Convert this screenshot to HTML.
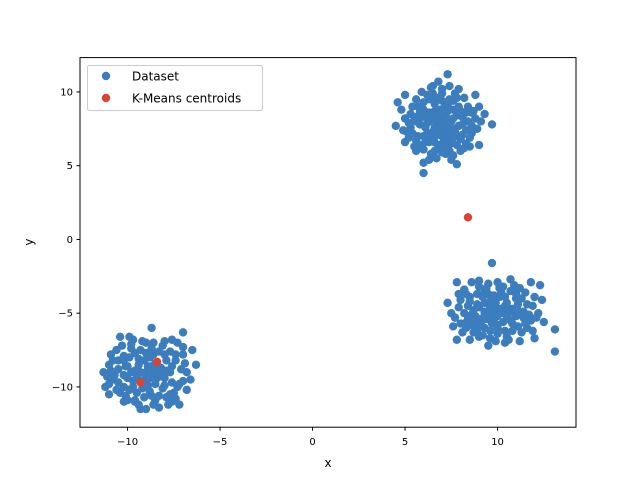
<!DOCTYPE html>
<html><head><meta charset="utf-8"><style>
body{margin:0;background:#fff;}
svg{display:block;font-family:"DejaVu Sans","Liberation Sans",sans-serif;}
</style></head><body>
<svg id="chart" width="640" height="480">
<rect x="0" y="0" width="640" height="480" fill="#fff"/>
<g id="pts"></g>
<rect x="80" y="57.6" width="496" height="369.6" fill="none" stroke="#000" stroke-width="1"/>
<g id="axes"></g>
<text x="328" y="467" font-size="12" text-anchor="middle">x</text>
<text x="33" y="242" font-size="12" text-anchor="middle" transform="rotate(-90 33 242)">y</text>
<g>
<rect x="87.5" y="65.5" width="175" height="45" rx="2" fill="#fff" fill-opacity="0.8" stroke="#ccc"/>
<circle cx="106" cy="76" r="4.2" fill="#3b7dbd"/>
<text x="132" y="80.5" font-size="12">Dataset</text>
<circle cx="106" cy="98" r="4.2" fill="#db4433"/>
<text x="132" y="102.5" font-size="12">K-Means centroids</text>
</g>
</svg>
<script>
const dataA=[[4.5,7.7],[4.6,9.3],[5.0,9.8],[6.8,10.7],[7.3,11.2],[8.8,9.8],[9.3,8.5],[9.7,7.8],[9.0,6.4],[7.8,5.1],[6.0,4.5],[6.0,5.2],[5.0,6.6],[5.5,6.3],[5.3,8.5],[5.6,9.5],[6.2,9.8],[7.0,9.9],[7.8,9.6],[8.4,9.0],[8.8,8.2],[8.6,7.2],[8.3,6.5],[7.4,6.0],[6.6,6.0],[5.9,6.4],[5.4,7.2],[5.6,8.0],[6.0,8.8],[6.6,9.2],[7.3,9.1],[8.0,8.7],[8.1,7.8],[7.8,7.0],[7.1,6.7],[6.4,6.9],[6.1,7.6],[6.5,8.3],[7.2,8.4],[7.5,7.6],[6.9,7.5],[6.7,8.0],[7.0,7.0],[6.2,7.2],[5.8,7.8],[7.6,8.2],[8.4,8.0],[6.3,9.5],[7.6,9.4],[8.2,6.2],[6.8,6.3],[5.2,7.9],[5.7,9.0],[8.9,7.5],[7.2,5.8],[6.4,5.8],[4.8,8.8],[5.1,7.3],[7.9,10.2],[8.6,8.6],[6.9,8.8],[7.4,6.6],
[5.7,7.0],[6.0,7.0],[6.3,6.6],[6.6,6.6],[6.9,6.4],[7.2,6.3],[7.5,6.5],[7.8,6.4],[8.0,6.8],[7.7,7.3],[7.4,7.2],[7.1,7.3],[6.8,7.1],[6.5,7.3],[6.2,7.9],[5.9,8.3],[6.3,8.6],[6.6,8.7],[6.9,8.2],[7.2,7.9],[7.5,8.0],[7.8,8.4],[8.1,8.3],[8.3,8.6],[7.9,9.0],[7.6,8.8],[7.3,8.7],[7.0,9.4],[6.7,9.6],[6.5,9.9],[6.0,9.3],[5.8,8.6],[5.5,8.3],[5.3,7.6],[5.6,6.7],[6.0,6.1],[6.7,5.5],[7.0,5.9],[7.6,5.7],[8.0,6.0],[8.5,6.9],[8.3,7.4],[8.6,7.7],[7.9,7.7],[7.3,7.5],[6.9,7.8],[6.6,7.6],[6.3,8.0],[6.1,8.4],[6.8,8.5],[7.1,8.9],[7.4,9.5],[7.7,9.9],[7.0,10.2],[6.4,10.3],[5.9,10.0],[6.1,6.6],[6.6,7.0],[7.0,6.4],[7.3,6.9],[7.6,6.9],[8.1,7.1],[8.7,8.7],[5.4,9.0],[5.0,8.2],[4.9,7.4],[5.2,6.9],[5.6,6.0],[6.3,5.4],[7.5,5.4],[8.5,6.3],[9.1,8.0],[9.0,9.0],[8.2,9.6],[7.4,10.4],[6.5,10.4]];
const dataB=[[9.7,-1.6],[7.8,-2.9],[12.3,-3.1],[11.8,-2.9],[13.1,-6.1],[13.1,-7.6],[7.8,-6.8],[8.5,-6.8],[9.5,-7.2],[10.4,-7.0],[12.0,-6.7],[12.5,-5.6],[7.3,-4.3],[7.5,-5.0],[8.2,-3.4],[9.0,-2.8],[10.0,-2.9],[10.9,-3.1],[11.5,-3.6],[11.9,-4.5],[11.8,-5.5],[11.3,-6.3],[10.5,-6.6],[9.6,-6.7],[8.7,-6.3],[8.0,-5.7],[7.9,-4.6],[8.5,-3.9],[9.3,-3.5],[10.2,-3.6],[11.0,-4.0],[11.2,-4.9],[10.8,-5.7],[10.0,-6.0],[9.1,-5.8],[8.6,-5.1],[8.9,-4.4],[9.6,-4.2],[10.4,-4.5],[10.5,-5.2],[9.8,-5.4],[9.3,-5.0],[9.9,-4.8],[10.1,-3.9],[8.3,-6.0],[11.6,-6.0],[12.2,-5.0],[9.2,-6.5],[10.7,-2.7],[8.6,-2.9],[12.4,-4.1],[7.6,-5.9],[9.5,-3.0],[11.2,-6.9],
[8.4,-4.5],[8.7,-4.8],[9.0,-4.6],[9.3,-4.3],[9.6,-4.6],[9.9,-4.3],[10.2,-4.7],[10.5,-4.3],[10.8,-4.7],[11.1,-4.4],[11.4,-4.9],[11.4,-5.3],[11.0,-5.2],[10.7,-5.5],[10.3,-5.6],[10.0,-5.2],[9.7,-5.7],[9.4,-5.4],[9.1,-5.4],[8.8,-5.6],[8.4,-5.4],[8.2,-5.0],[8.5,-4.2],[8.9,-3.7],[9.2,-3.9],[9.5,-3.7],[9.8,-3.8],[10.1,-3.3],[10.4,-3.9],[10.7,-3.5],[11.0,-3.7],[11.3,-4.0],[11.6,-4.4],[11.7,-5.1],[11.5,-5.7],[11.1,-5.9],[10.8,-6.2],[10.4,-6.2],[10.0,-6.4],[9.6,-6.2],[9.3,-6.0],[8.9,-6.1],[8.6,-5.8],[8.2,-5.7],[8.0,-4.1],[8.3,-3.7],[9.0,-3.2],[9.4,-3.3],[10.3,-3.2],[10.9,-3.3],[11.2,-3.3],[12.0,-3.9],[12.1,-5.3],[11.9,-6.2],[10.6,-6.8],[9.9,-6.9],[9.0,-6.6],[8.1,-6.3],[7.7,-5.3],[7.9,-3.7],[9.6,-5.0],[10.3,-5.0],[10.6,-4.9],[9.9,-4.6],[9.3,-4.9],[8.8,-5.2],[10.0,-5.8],[10.9,-5.0]];
const dataC=[[-11.3,-9.0],[-11.0,-10.5],[-10.4,-6.6],[-9.7,-6.8],[-8.7,-6.0],[-7.0,-6.3],[-6.5,-7.5],[-6.3,-8.5],[-6.6,-9.5],[-7.2,-11.2],[-7.8,-11.2],[-9.0,-11.5],[-9.3,-11.5],[-10.0,-10.9],[-11.0,-8.5],[-10.6,-7.5],[-10.8,-9.5],[-10.4,-10.4],[-9.6,-10.9],[-8.5,-10.9],[-7.7,-10.5],[-7.2,-9.8],[-7.1,-8.8],[-7.4,-7.8],[-8.1,-7.2],[-9.0,-7.0],[-9.8,-7.4],[-10.2,-8.2],[-10.2,-9.2],[-9.7,-10.0],[-8.8,-10.3],[-8.0,-9.9],[-7.7,-9.0],[-7.9,-8.2],[-8.6,-7.8],[-9.4,-8.1],[-9.6,-8.9],[-9.1,-9.5],[-8.4,-9.4],[-8.2,-8.7],[-8.9,-8.6],[-9.0,-9.1],[-8.6,-9.0],[-10.9,-7.8],[-11.2,-10.0],[-7.0,-7.3],[-6.8,-10.2],[-8.3,-11.4],[-9.9,-6.6],[-7.6,-6.8],[-10.0,-8.6],[-7.4,-10.8],
[-10.5,-8.2],[-10.2,-7.9],[-9.9,-8.0],[-9.6,-7.7],[-9.3,-7.5],[-9.0,-7.7],[-8.7,-7.4],[-8.3,-7.6],[-8.0,-7.8],[-7.7,-7.6],[-7.4,-8.2],[-7.6,-8.6],[-7.9,-8.9],[-8.2,-9.2],[-8.5,-9.8],[-8.9,-9.9],[-9.2,-10.1],[-9.5,-10.4],[-9.9,-10.2],[-10.2,-10.0],[-10.5,-9.7],[-10.7,-9.2],[-10.5,-8.8],[-10.1,-8.6],[-9.8,-9.0],[-9.5,-9.3],[-9.2,-9.6],[-9.4,-8.5],[-9.1,-8.2],[-8.8,-8.0],[-8.5,-8.4],[-8.3,-8.8],[-8.0,-9.4],[-7.6,-9.7],[-7.3,-10.0],[-7.5,-10.4],[-7.9,-10.7],[-8.3,-10.6],[-8.7,-10.6],[-9.1,-10.7],[-9.6,-11.0],[-10.1,-10.6],[-10.6,-10.2],[-11.0,-9.8],[-11.1,-9.3],[-10.9,-8.9],[-10.8,-8.2],[-10.3,-7.2],[-9.8,-7.1],[-9.2,-6.9],[-8.6,-7.0],[-8.0,-6.9],[-7.3,-7.0],[-7.0,-7.8],[-6.9,-8.4],[-6.8,-9.0],[-7.0,-9.6],[-7.6,-11.0],[-8.6,-11.2],[-9.4,-11.2],[-10.2,-11.0],[-8.8,-9.4],[-9.3,-9.0],[-8.7,-8.6],[-9.7,-9.6],[-8.1,-10.1],[-10.0,-9.4],[-9.0,-9.0]];
const centroids=[[8.4,1.5],[-8.4,-8.3],[-9.3,-9.7]];
const xTicks=[-10,-5,0,5,10], yTicks=[-10,-5,0,5,10];
const X=v=>80+(v+12.57)/(14.24+12.57)*496;
const Y=v=>427.2-(v+12.73)/(12.33+12.73)*369.6;
const NS='http://www.w3.org/2000/svg';
const g=document.getElementById('pts');
function dot(p,c,name){const e=document.createElementNS(NS,'circle');
e.setAttribute('cx',X(p[0]));e.setAttribute('cy',Y(p[1]));e.setAttribute('r',4.2);e.setAttribute('fill',c);


g.appendChild(e);}
dataA.concat(dataB,dataC).forEach(p=>dot(p,'#3b7dbd','data-point'));
centroids.forEach(p=>dot(p,'#db4433','centroid-point'));
const ax=document.getElementById('axes');
xTicks.forEach(t=>{const x=X(t);
const l=document.createElementNS(NS,'line');l.setAttribute('x1',x);l.setAttribute('x2',x);l.setAttribute('y1',427.2);l.setAttribute('y2',430.7);l.setAttribute('stroke','#000');


ax.appendChild(l);
const s=document.createElementNS(NS,'text');s.setAttribute('x',x);s.setAttribute('y',445);s.setAttribute('font-size','10');s.setAttribute('text-anchor','middle');s.textContent=t<0?'\u2212'+(-t):t;


ax.appendChild(s);});
yTicks.forEach(t=>{const y=Y(t);
const l=document.createElementNS(NS,'line');l.setAttribute('x1',76.5);l.setAttribute('x2',80);l.setAttribute('y1',y);l.setAttribute('y2',y);l.setAttribute('stroke','#000');


ax.appendChild(l);
const s=document.createElementNS(NS,'text');s.setAttribute('x',73);s.setAttribute('y',y+3.5);s.setAttribute('font-size','10');s.setAttribute('text-anchor','end');s.textContent=t<0?'\u2212'+(-t):t;


ax.appendChild(s);});
</script>
</body></html>
